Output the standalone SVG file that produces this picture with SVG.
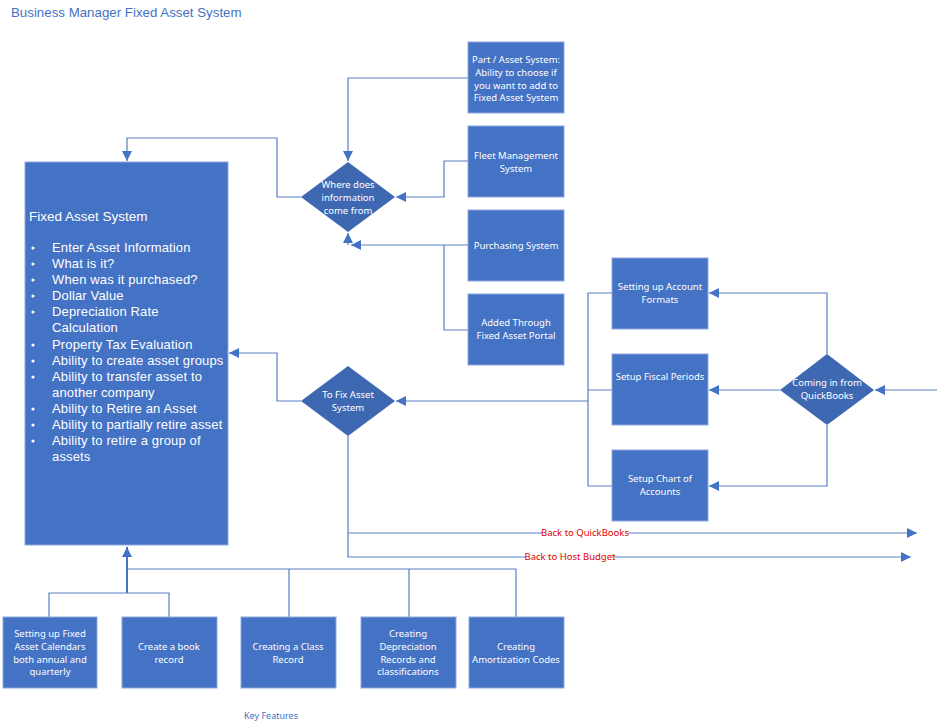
<svg xmlns="http://www.w3.org/2000/svg" width="937" height="728" viewBox="0 0 937 728">
<defs>
<marker id="ah" markerUnits="userSpaceOnUse" markerWidth="10" markerHeight="10" viewBox="0 0 10 10" refX="10" refY="5" orient="auto">
<path d="M0,0 L10,5 L0,10 Z" fill="#4472C4"/>
</marker>
</defs>
<style>
.box{fill:#4472C4;stroke:#8EA9DB;stroke-width:1}
.dia{fill:#3F68B3;stroke:none}
.t{font-family:"Noto Sans","Open Sans",sans-serif;font-size:9.5px;fill:#fff;text-anchor:middle}
.m{font-family:"Liberation Sans",Arial,sans-serif;font-size:13px;letter-spacing:0.15px;fill:#fff}
.c{fill:none;stroke:#5A7FC6;stroke-width:1.2}
.lbl{font-family:"Noto Sans","Open Sans",sans-serif;font-size:9.5px;fill:#E00000;text-anchor:middle}
</style>
<rect width="937" height="728" fill="#fff"/>
<text x="11" y="17" style="font-family:'Liberation Sans',Arial,sans-serif;font-size:13.3px;fill:#4472C4">Business Manager Fixed Asset System</text>

<g id="connectors">
<path class="c" d="M301,197 H277 V138 H127 V161" marker-end="url(#ah)"/>
<path class="c" d="M468,78 H348 V161" marker-end="url(#ah)"/>
<path class="c" d="M468,161 H444 V197 H396" marker-end="url(#ah)"/>
<path class="c" d="M468,245 H351" marker-end="url(#ah)"/>
<path class="c" d="M348,245 V233" marker-end="url(#ah)"/>
<path class="c" d="M468,330 H444 V245"/>
<path class="c" d="M301,401 H277 V353 H229" marker-end="url(#ah)"/>
<path class="c" d="M937,390 H875" marker-end="url(#ah)"/>
<path class="c" d="M827,354 V293 H709" marker-end="url(#ah)"/>
<path class="c" d="M780,390 H709" marker-end="url(#ah)"/>
<path class="c" d="M827,425 V486 H709" marker-end="url(#ah)"/>
<path class="c" d="M612,293 H588 V486 H612 M588,390 H612"/>
<path class="c" d="M588,401 H396" marker-end="url(#ah)"/>
<path class="c" d="M348,436 V557 H911" marker-end="url(#ah)"/>
<path class="c" d="M348,533 H917" marker-end="url(#ah)"/>
<path fill="none" stroke="#4472C4" stroke-width="2" d="M127,593 V547" marker-end="url(#ah)"/>
<path class="c" d="M49,617 V593 H169 V617"/>
<path class="c" d="M127,569 H516 V617 M289,569 V617 M409,569 V617"/>
<rect x="542" y="527" width="86" height="12" fill="#fff"/>
<text class="lbl" x="585" y="536">Back to QuickBooks</text>
<rect x="526" y="551" width="88" height="12" fill="#fff"/>
<text class="lbl" x="570" y="560">Back to Host Budget</text>
</g>

<g id="fixed-asset-system">
<rect class="box" x="25" y="162" width="203" height="383"/>
<text class="m" x="29" y="221" style="font-size:13.5px;letter-spacing:0">Fixed Asset System</text>
<g fill="#fff">
<circle cx="33" cy="248" r="1.6"/><circle cx="33" cy="264" r="1.6"/><circle cx="33" cy="280" r="1.6"/><circle cx="33" cy="296" r="1.6"/><circle cx="33" cy="312" r="1.6"/><circle cx="33" cy="345" r="1.6"/><circle cx="33" cy="361" r="1.6"/><circle cx="33" cy="377" r="1.6"/><circle cx="33" cy="409" r="1.6"/><circle cx="33" cy="425" r="1.6"/><circle cx="33" cy="441" r="1.6"/>
</g>
<text class="m" x="52" y="252">Enter Asset Information</text>
<text class="m" x="52" y="268">What is it?</text>
<text class="m" x="52" y="284">When was it purchased?</text>
<text class="m" x="52" y="300">Dollar Value</text>
<text class="m" x="52" y="316">Depreciation Rate</text>
<text class="m" x="52" y="332">Calculation</text>
<text class="m" x="52" y="349">Property Tax Evaluation</text>
<text class="m" x="52" y="365">Ability to create asset groups</text>
<text class="m" x="52" y="381">Ability to transfer asset to</text>
<text class="m" x="52" y="397">another company</text>
<text class="m" x="52" y="413">Ability to Retire an Asset</text>
<text class="m" x="52" y="429">Ability to partially retire asset</text>
<text class="m" x="52" y="445">Ability to retire a group of</text>
<text class="m" x="52" y="461">assets</text>
</g>

<g id="where-does">
<polygon class="dia" points="348,162 395,197 348,232 301,197"/>
<text class="t" x="348" y="188">Where does</text>
<text class="t" x="348" y="201">information</text>
<text class="t" x="348" y="214">come from</text>
</g>

<g id="part-asset">
<rect class="box" x="468" y="42" width="96" height="71"/>
<text class="t" x="516" y="63">Part / Asset System:</text>
<text class="t" x="516" y="76">Ability to choose if</text>
<text class="t" x="516" y="89">you want to add to</text>
<text class="t" x="516" y="101">Fixed Asset System</text>
</g>

<g id="fleet">
<rect class="box" x="468" y="126" width="96" height="71"/>
<text class="t" x="516" y="159">Fleet Management</text>
<text class="t" x="516" y="172">System</text>
</g>

<g id="purchasing">
<rect class="box" x="468" y="210" width="96" height="71"/>
<text class="t" x="516" y="249">Purchasing System</text>
</g>

<g id="portal">
<rect class="box" x="468" y="294" width="96" height="71"/>
<text class="t" x="516" y="326">Added Through</text>
<text class="t" x="516" y="339">Fixed Asset Portal</text>
</g>

<g id="to-fix">
<polygon class="dia" points="348,366 395,401 348,436 301,401"/>
<text class="t" x="348" y="398">To Fix Asset</text>
<text class="t" x="348" y="411">System</text>
</g>

<g id="account-formats">
<rect class="box" x="612" y="258" width="96" height="71"/>
<text class="t" x="660" y="290">Setting up Account</text>
<text class="t" x="660" y="303">Formats</text>
</g>

<g id="fiscal-periods">
<rect class="box" x="612" y="354" width="96" height="71"/>
<text class="t" x="660" y="380">Setup Fiscal Periods</text>
</g>

<g id="chart-accounts">
<rect class="box" x="612" y="450" width="96" height="71"/>
<text class="t" x="660" y="482">Setup Chart of</text>
<text class="t" x="660" y="495">Accounts</text>
</g>

<g id="quickbooks">
<polygon class="dia" points="827,354 874,390 827,425 780,390"/>
<text class="t" x="827" y="386">Coming in from</text>
<text class="t" x="827" y="399">QuickBooks</text>
</g>

<g id="calendars">
<rect class="box" x="3" y="617" width="94" height="71"/>
<text class="t" x="50" y="637">Setting up Fixed</text>
<text class="t" x="50" y="650">Asset Calendars</text>
<text class="t" x="50" y="663">both annual and</text>
<text class="t" x="50" y="675">quarterly</text>
</g>

<g id="book-record">
<rect class="box" x="122" y="617" width="95" height="71"/>
<text class="t" x="169" y="650">Create a book</text>
<text class="t" x="169" y="663">record</text>
</g>

<g id="class-record">
<rect class="box" x="241" y="617" width="95" height="71"/>
<text class="t" x="288" y="650">Creating a Class</text>
<text class="t" x="288" y="663">Record</text>
</g>

<g id="depreciation">
<rect class="box" x="361" y="617" width="95" height="71"/>
<text class="t" x="408" y="637">Creating</text>
<text class="t" x="408" y="650">Depreciation</text>
<text class="t" x="408" y="663">Records and</text>
<text class="t" x="408" y="675">classifications</text>
</g>

<g id="amortization">
<rect class="box" x="469" y="617" width="95" height="71"/>
<text class="t" x="516" y="650">Creating</text>
<text class="t" x="516" y="663">Amortization Codes</text>
</g>

<text x="271" y="719" style="font-family:'Noto Sans','Open Sans',sans-serif;font-size:9px;fill:#4472C4;text-anchor:middle">Key Features</text>
</svg>
